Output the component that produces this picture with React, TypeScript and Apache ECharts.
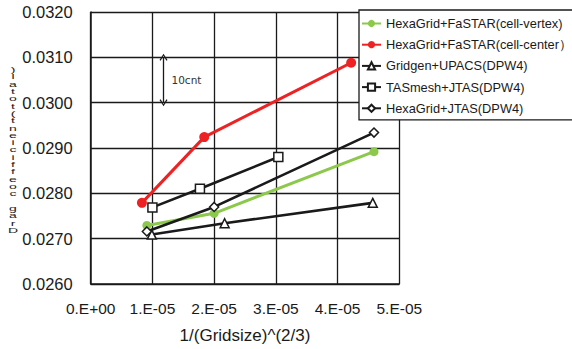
import React, { useEffect, useRef } from "react";
import * as echarts from "echarts";

const xTickLabels = ["0.E+00", "1.E-05", "2.E-05", "3.E-05", "4.E-05", "5.E-05"];
const seriesNames = [
  "HexaGrid+FaSTAR(cell-vertex)",
  "HexaGrid+FaSTAR(cell-center）",
  "Gridgen+UPACS(DPW4)",
  "TASmesh+JTAS(DPW4)",
  "HexaGrid+JTAS(DPW4)",
];
const vertexX = [0.91e-5, 2.0e-5, 4.59e-5];
const vertexY = [0.02729, 0.02756, 0.02892];
const centerX = [0.83e-5, 1.84e-5, 4.22e-5];
const centerY = [0.02779, 0.02924, 0.03088];
const upacsX = [0.99e-5, 2.17e-5, 4.57e-5];
const upacsY = [0.02709, 0.02734, 0.02779];
const tasX = [1.0e-5, 1.77e-5, 3.04e-5];
const tasY = [0.02769, 0.0281, 0.0288];
const jtasX = [0.91e-5, 2.0e-5, 4.59e-5];
const jtasY = [0.02716, 0.0277, 0.02934];
const annotX = 1.18e-5;
const annotY = [0.031, 0.03];
const annotText = "10cnt";
const yTitle = "Drag coefficient(total)";
const xTitle = "1/(Gridsize)^(2/3)";

const zip = (xs: number[], ys: number[]) => xs.map((x, i) => [x, ys[i]]);

export default function App() {
  const ref = useRef<HTMLDivElement>(null);
  useEffect(() => {
    if (!ref.current) return;
    const chart = echarts.init(ref.current, null, { renderer: "svg" });
    const font = "'Liberation Sans', Arial, sans-serif";
    const black = "#1a1a1a";
    const chevron = "path://M5,0 L10,8 L8.6,9 L5,2.6 L1.4,9 L0,8 Z";
    const mk = (
      name: string,
      data: number[][],
      color: string,
      symbol: string,
      size: number,
      width: number,
      hollow: boolean,
      extra: any = {}
    ) => ({
      name,
      type: "line",
      data,
      symbol,
      symbolSize: size,
      showSymbol: true,
      lineStyle: { color, width },
      itemStyle: hollow
        ? { color: "#fff", borderColor: color, borderWidth: 1.5 }
        : { color, borderColor: color, borderWidth: 0 },
      z: 3,
      ...extra,
    });
    const titleLines = yTitle.split("").reverse();
    const pitch = 7.3;
    const lh = 15;
    chart.setOption({
      animation: false,
      backgroundColor: "#fff",
      grid: { left: 90.7, top: 12, right: 172.7, bottom: 64.5, containLabel: false },
      xAxis: {
        type: "value",
        min: 0,
        max: 5e-5,
        interval: 1e-5,
        name: xTitle,
        nameLocation: "middle",
        nameGap: 43,
        nameTextStyle: { fontFamily: font, fontSize: 17, color: black },
        axisLine: { show: true, lineStyle: { color: black, width: 1.5 } },
        axisTick: { show: false },
        axisLabel: {
          margin: 16,
          fontFamily: font,
          fontSize: 15.5,
          color: black,
          formatter: (v: number) => xTickLabels[Math.round(v / 1e-5)] ?? "",
        },
        splitLine: { show: true, lineStyle: { color: black, width: 1.3 } },
      },
      yAxis: {
        type: "value",
        min: 0.026,
        max: 0.032,
        interval: 0.001,
        axisLine: { show: true, lineStyle: { color: black, width: 1.5 } },
        axisTick: { show: false },
        axisLabel: {
          margin: 18,
          fontFamily: font,
          fontSize: 16.5,
          color: black,
          formatter: (v: number) => v.toFixed(4),
        },
        splitLine: { show: true, lineStyle: { color: black, width: 1.3 } },
      },
      legend: {
        orient: "vertical",
        left: 359,
        top: 10,
        padding: [7, 9, 5, 2],
        itemGap: 8.2,
        itemWidth: 19,
        itemHeight: 9,
        itemTextGap: 1,
        backgroundColor: "#fff",
        borderColor: black,
        borderWidth: 1.3,
        textStyle: { fontFamily: font, fontSize: 12.8, color: black },
        data: seriesNames,
        z: 10,
      },
      series: [
        mk(seriesNames[0], zip(vertexX, vertexY), "#8cc84b", "circle", 9, 3, false),
        mk(seriesNames[1], zip(centerX, centerY), "#ee2222", "circle", 10, 3, false),
        mk(seriesNames[2], zip(upacsX, upacsY), black, "triangle", 9, 2.6, true),
        mk(seriesNames[3], zip(tasX, tasY), black, "rect", 9, 2.6, true),
        mk(seriesNames[4], zip(jtasX, jtasY), black, "diamond", 9, 2.6, true, {
          markLine: {
            silent: true,
            symbol: [chevron, chevron],
            symbolSize: [8, 7],
            label: { show: false },
            lineStyle: { color: black, width: 1.3, type: "solid" },
            data: [[{ coord: [annotX, annotY[0]] }, { coord: [annotX, annotY[1]] }]],
          },
        }),
      ],
      graphic: [
        {
          type: "text",
          left: 171.5,
          top: 74.5,
          style: {
            text: annotText,
            fontFamily: "'DejaVu Sans', sans-serif",
            fontSize: 10.5,
            fill: "#333",
          },
        },
        {
          type: "text",
          x: 13,
          y: 66,
          scaleX: 1,
          scaleY: pitch / lh,
          style: {
            text: titleLines.join("\n"),
            fontFamily: font,
            fontSize: 14,
            lineHeight: lh,
            align: "center",
            verticalAlign: "top",
            fill: black,
          },
        },
      ],
    });
    return () => chart.dispose();
  }, []);
  return (
    <div
      ref={ref}
      style={{ position: "fixed", left: 0, top: 0, width: 572, height: 349, background: "#fff" }}
    />
  );
}
